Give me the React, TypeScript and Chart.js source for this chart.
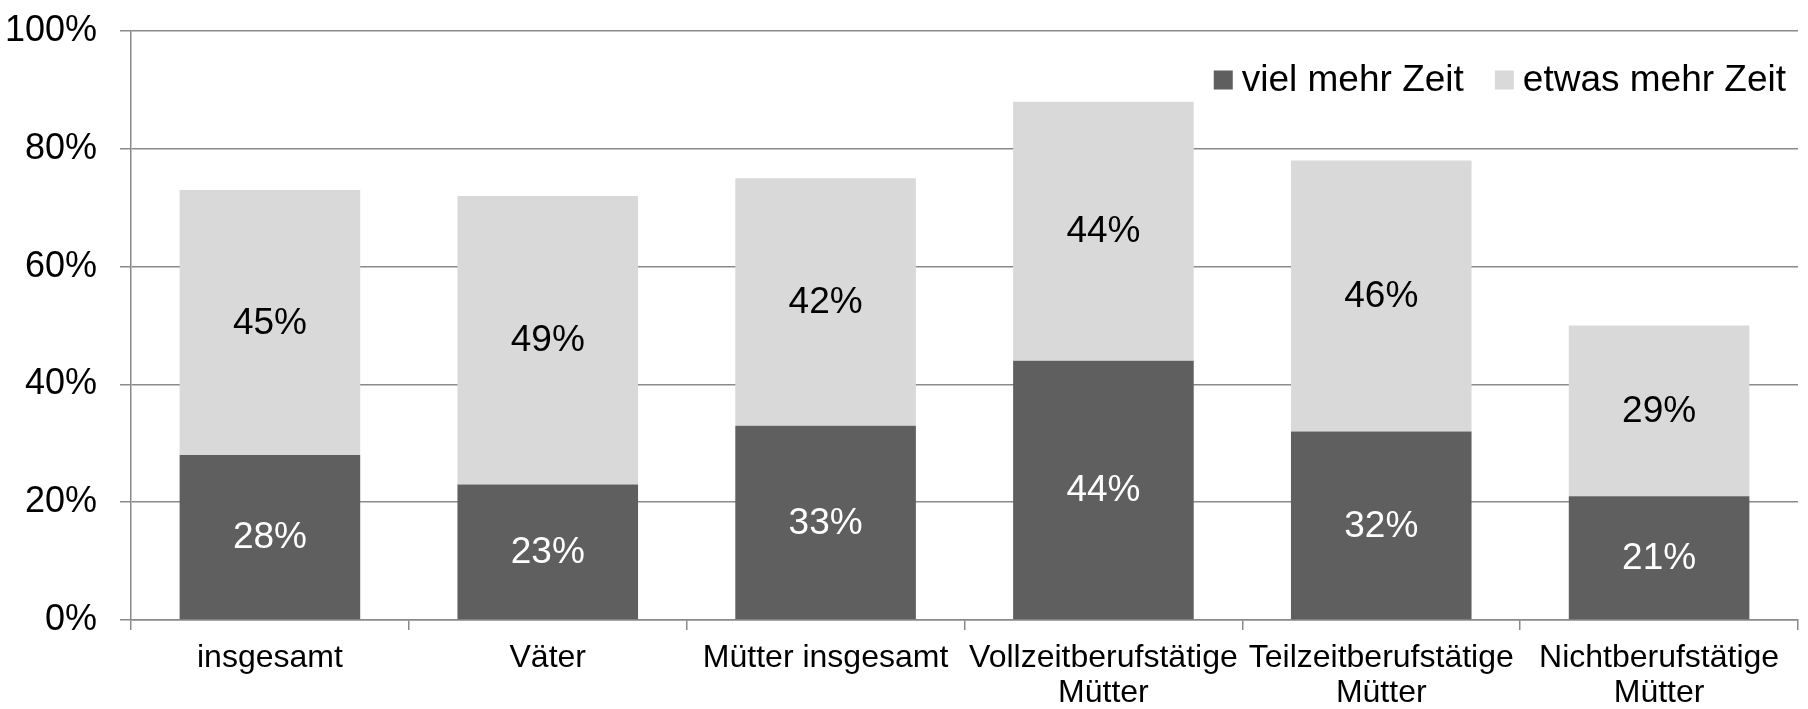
import React, { useEffect, useRef } from "react";
import { Chart, registerables } from "chart.js";

Chart.register(...registerables);

const FONT = '"Liberation Sans", Arial, Helvetica, sans-serif';

const categories: (string | string[])[] = [
  "insgesamt",
  "Väter",
  "Mütter insgesamt",
  ["Vollzeitberufstätige", "Mütter"],
  ["Teilzeitberufstätige", "Mütter"],
  ["Nichtberufstätige", "Mütter"],
];
const seriesLabels = ["viel mehr Zeit", "etwas mehr Zeit"];
const vielMehrZeit = [28, 23, 33, 44, 32, 21];
const etwasMehrZeit = [45, 49, 42, 44, 46, 29];
const yTickValues = [0, 20, 40, 60, 80, 100];

const DARK = "#5f5f5f";
const LIGHT = "#d9d9d9";
const GRID = "#8a8a8a";

const valueLabelPlugin = {
  id: "valueLabels",
  afterDatasetsDraw(chart: any) {
    const ctx = chart.ctx;
    ctx.save();
    ctx.font = `37px ${FONT}`;
    ctx.textAlign = "center";
    ctx.textBaseline = "middle";
    chart.data.datasets.forEach((ds: any, di: number) => {
      const meta = chart.getDatasetMeta(di);
      ctx.fillStyle = di === 0 ? "#ffffff" : "#000000";
      meta.data.forEach((el: any, i: number) => {
        const v = ds.data[i];
        const y = (el.y + el.base) / 2;
        ctx.fillText(`${v}%`, el.x, y + 1);
      });
    });
    ctx.restore();
  },
};

const insideLegendPlugin = {
  id: "insideLegend",
  afterDraw(chart: any) {
    const ctx = chart.ctx;
    const area = chart.chartArea;
    ctx.save();
    ctx.font = `37px ${FONT}`;
    ctx.textAlign = "left";
    ctx.textBaseline = "middle";
    const box = 19;
    const gapBoxText = 9;
    const gapItems = 31;
    const cy = area.top + 49;
    const items = chart.data.datasets.map((ds: any) => ({
      label: ds.label as string,
      color: ds.backgroundColor as string,
    }));
    const widths = items.map((it: any) => ctx.measureText(it.label).width);
    const total =
      widths.reduce((a: number, b: number) => a + b, 0) +
      items.length * (box + gapBoxText) +
      (items.length - 1) * gapItems;
    let cx = area.right - 12 - total;
    items.forEach((it: any, i: number) => {
      ctx.fillStyle = it.color;
      ctx.fillRect(cx, cy - box / 2, box, box);
      cx += box + gapBoxText;
      ctx.fillStyle = "#000000";
      ctx.fillText(it.label, cx, cy + 1);
      cx += widths[i] + gapItems;
    });
    ctx.restore();
  },
};

export default function App() {
  const canvasRef = useRef<HTMLCanvasElement | null>(null);

  useEffect(() => {
    document.body.style.margin = "0";
    const canvas = canvasRef.current;
    if (!canvas) return;
    const chart = new Chart(canvas, {
      type: "bar",
      data: {
        labels: categories as any,
        datasets: [
          {
            label: seriesLabels[0],
            data: vielMehrZeit,
            backgroundColor: DARK,
            borderWidth: 0,
            barPercentage: 0.65,
            categoryPercentage: 1,
          },
          {
            label: seriesLabels[1],
            data: etwasMehrZeit,
            backgroundColor: LIGHT,
            borderWidth: 0,
            barPercentage: 0.65,
            categoryPercentage: 1,
          },
        ],
      },
      options: {
        responsive: false,
        animation: false,
        devicePixelRatio: 1,
        layout: { padding: { top: 31, right: 10, bottom: 0, left: 0 } },
        plugins: {
          legend: { display: false },
          tooltip: { enabled: false },
        },
        scales: {
          x: {
            stacked: true,
            offset: true,
            grid: {
              offset: true,
              drawOnChartArea: false,
              drawTicks: true,
              tickLength: 10,
              color: GRID,
              lineWidth: 1.5,
            },
            border: { display: true, color: GRID, width: 1.5 },
            ticks: {
              color: "#000000",
              font: { family: FONT, size: 32, lineHeight: 1.094 },
              padding: 11,
              autoSkip: false,
              maxRotation: 0,
              minRotation: 0,
            },
            afterFit(scale: any) {
              scale.height = 89;
              scale.paddingLeft = 0;
              scale.paddingRight = 0;
            },
          },
          y: {
            stacked: true,
            min: 0,
            max: 100,
            afterBuildTicks(scale: any) {
              scale.ticks = yTickValues.map((v) => ({ value: v }));
            },
            grid: {
              drawOnChartArea: true,
              drawTicks: true,
              tickLength: 11,
              color: GRID,
              lineWidth: 1.5,
            },
            border: { display: true, color: GRID, width: 1.5 },
            ticks: {
              color: "#000000",
              font: { family: FONT, size: 36 },
              padding: 23,
              callback: (v: any) => `${v}%`,
            },
            afterFit(scale: any) {
              scale.width = 131;
              scale.paddingTop = 0;
              scale.paddingBottom = 0;
            },
          },
        },
      },
      plugins: [valueLabelPlugin, insideLegendPlugin],
    });
    return () => chart.destroy();
  }, []);

  return (
    <div style={{ width: 1808, height: 709, background: "#ffffff" }}>
      <canvas ref={canvasRef} width={1808} height={709} style={{ display: "block" }} />
    </div>
  );
}
